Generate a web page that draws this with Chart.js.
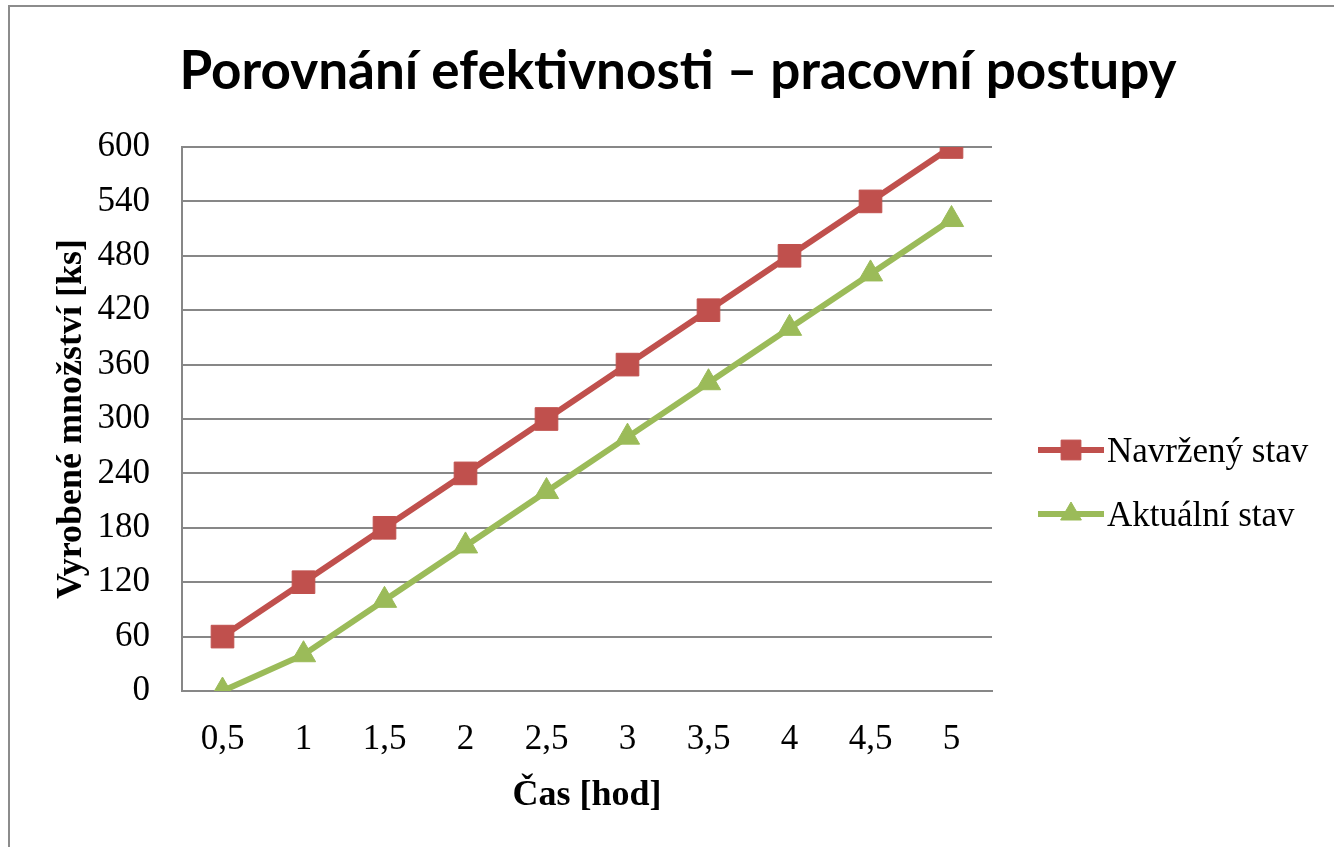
<!DOCTYPE html>
<html>
<head>
<meta charset="utf-8">
<script src="https://cdn.jsdelivr.net/npm/chart.js@4.4.1/dist/chart.umd.min.js"></script>
<style>
  html, body { margin: 0; padding: 0; background: #fff; }
  #wrap { width: 1334px; height: 847px; position: relative; }
</style>
</head>
<body>
<div id="wrap"><canvas id="graf"></canvas></div>
<script>
// data
const casy = ["0,5", "1", "1,5", "2", "2,5", "3", "3,5", "4", "4,5", "5"]
const navrzeny = [60, 120, 180, 240, 300, 360, 420, 480, 540, 600]
const aktualni = [0, 40, 100, 160, 220, 280, 340, 400, 460, 520]
const nazvy = ["Navržený stav", "Aktuální stav"]
const titulek = "Porovnání efektivnosti – pracovní postupy"

const cervena = "#C0504D"
const zelena = "#9BBB59"
const seda = "#878787"
const serif = "'Liberation Serif', 'Times New Roman', serif"

// frame, title and the legend on the right
const kresba = {
  id: "kresba",
  beforeDraw(chart) {
    const ctx = chart.ctx
    ctx.save()
    ctx.fillStyle = "#fff"
    ctx.fillRect(0, 0, chart.width, chart.height)
    ctx.strokeStyle = "#8c8c8c"
    ctx.lineWidth = 2
    ctx.beginPath()
    ctx.moveTo(9, chart.height)
    ctx.lineTo(9, 6)
    ctx.lineTo(chart.width, 6)
    ctx.stroke()
    ctx.restore()
  },
  afterDraw(chart) {
    const ctx = chart.ctx
    ctx.save()
    ctx.fillStyle = "#000"
    ctx.font = "bold 53px Lato, 'Open Sans', sans-serif"
    ctx.textAlign = "center"
    ctx.textBaseline = "alphabetic"
    ctx.fillText(titulek, 678, 89)

    // legend
    ctx.font = "35px " + serif
    ctx.textAlign = "left"
    chart.data.datasets.forEach((ds, i) => {
      let y = 450 + i * 64
      ctx.strokeStyle = ds.borderColor
      ctx.lineWidth = 6
      ctx.beginPath()
      ctx.moveTo(1038, y)
      ctx.lineTo(1104, y)
      ctx.stroke()
      ctx.fillStyle = ds.borderColor
      ctx.lineWidth = 1
      Chart.helpers.drawPoint(ctx, {
        pointStyle: ds.pointStyle,
        radius: i == 0 ? 14 : 12,
        borderWidth: 1
      }, 1071, y)
      ctx.fillStyle = "#000"
      ctx.fillText(ds.label, 1107, y + 12)
    })
    ctx.restore()
  }
}

const cfg = {
  type: "line",
  data: {
    labels: casy,
    datasets: [{
      label: nazvy[0],
      data: navrzeny,
      borderColor: cervena,
      backgroundColor: cervena,
      pointBackgroundColor: cervena,
      pointBorderColor: cervena,
      borderWidth: 6,
      pointStyle: "rect",
      pointRadius: 16,
      pointBorderWidth: 1
    }, {
      label: nazvy[1],
      data: aktualni,
      borderColor: zelena,
      backgroundColor: zelena,
      pointBackgroundColor: zelena,
      pointBorderColor: zelena,
      borderWidth: 6,
      pointStyle: "triangle",
      pointRadius: 14,
      pointBorderWidth: 1
    }]
  },
  options: {
    responsive: true,
    maintainAspectRatio: false,
    animation: false,
    events: [],
    layout: { padding: { top: 147, right: 342, bottom: 0, left: 0 } },
    plugins: {
      legend: { display: false },
      title: { display: false },
      tooltip: { enabled: false }
    },
    scales: {
      x: {
        offset: true,
        afterFit: (s) => { s.height = 156 },
        grid: { display: false, drawTicks: false },
        border: { display: true, color: seda, width: 2 },
        ticks: { color: "#000", padding: 28, maxRotation: 0, font: { family: serif, size: 35 } },
        title: {
          display: true,
          text: "Čas [hod]",
          color: "#000",
          padding: { top: 0, bottom: 30 },
          font: { family: serif, size: 36, weight: "bold" }
        }
      },
      y: {
        min: 0,
        max: 600,
        afterFit: (s) => { s.width = 182 },
        grid: { color: seda, lineWidth: 2, drawTicks: false },
        border: { display: true, color: seda, width: 2 },
        ticks: { stepSize: 60, color: "#000", padding: 32, font: { family: serif, size: 35 } },
        title: {
          display: true,
          text: "Vyrobené množství [ks]",
          color: "#000",
          padding: { top: 50, bottom: 0 },
          font: { family: serif, size: 36, weight: "bold" }
        }
      }
    }
  },
  plugins: [kresba]
}

const graf = new Chart(document.getElementById("graf"), cfg)
</script>
</body>
</html>
